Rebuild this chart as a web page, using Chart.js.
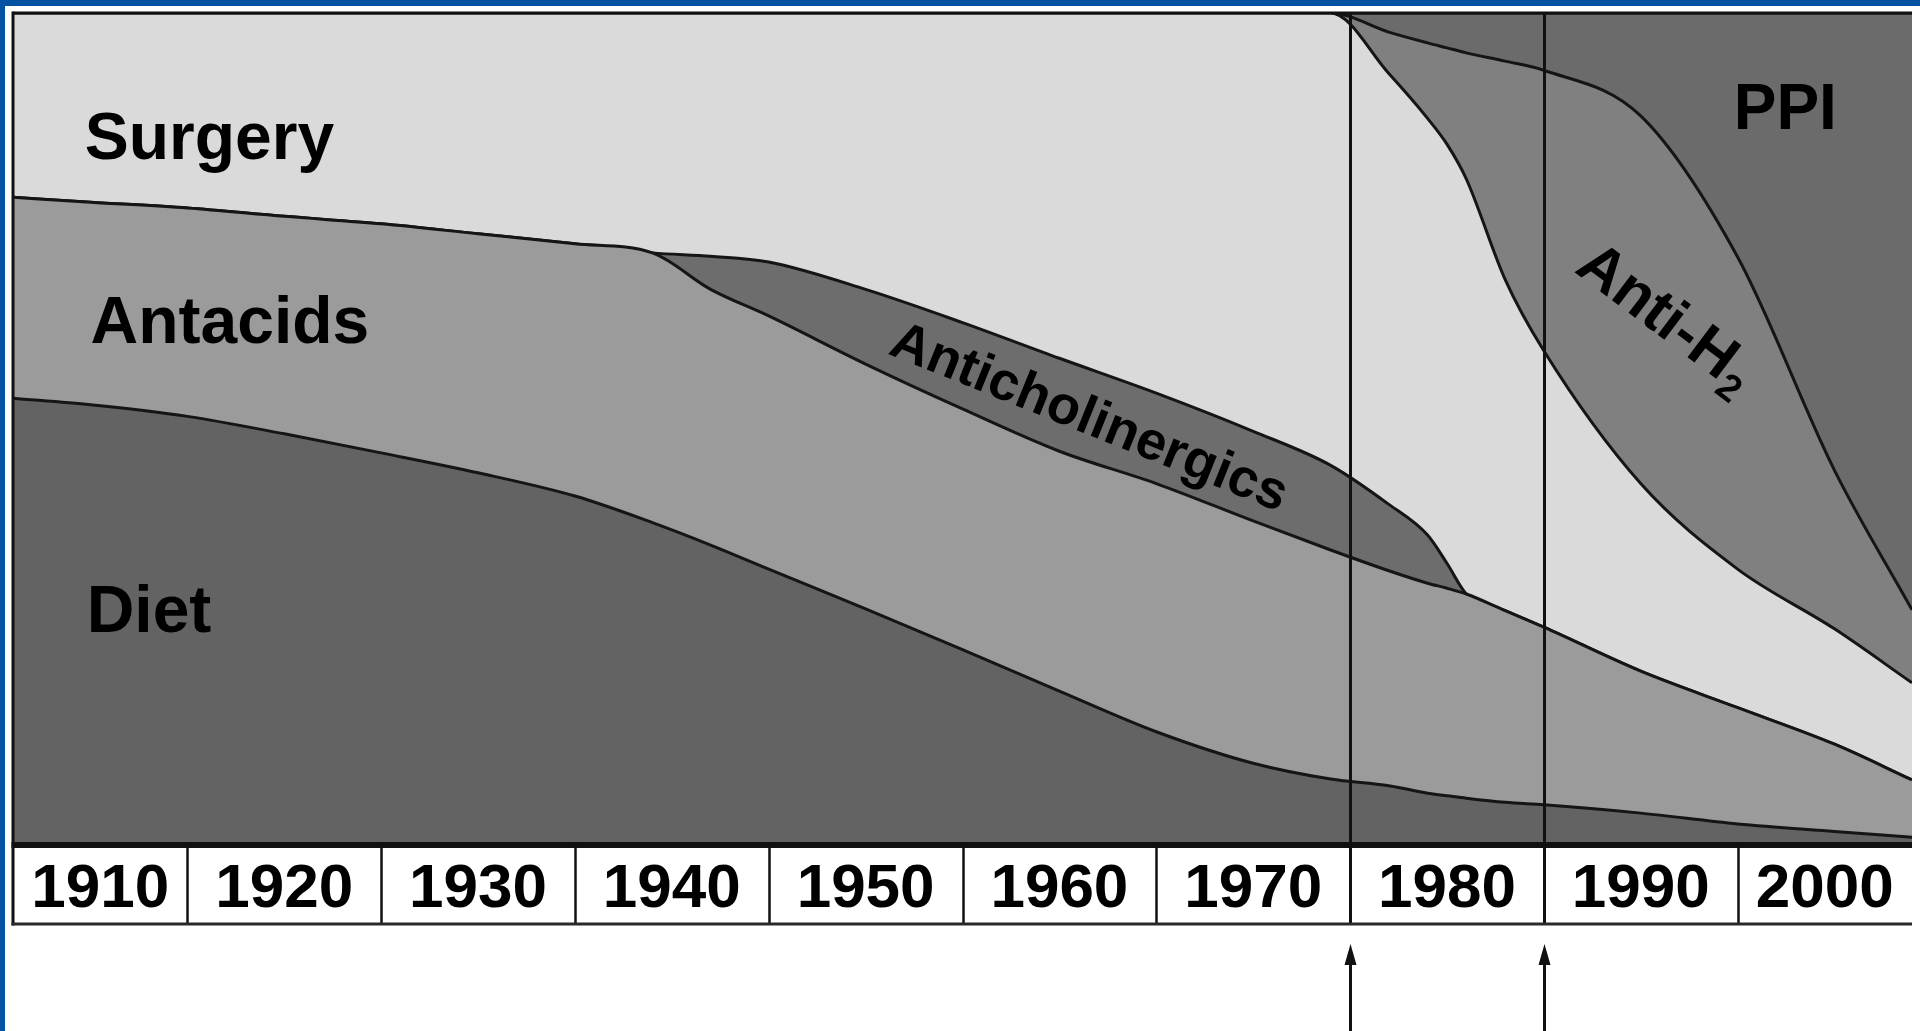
<!DOCTYPE html>
<html>
<head>
<meta charset="utf-8">
<script src="https://cdn.jsdelivr.net/npm/chart.js@4.4.1/dist/chart.umd.min.js"></script>
<style>
html,body{margin:0;padding:0;background:#ffffff;overflow:hidden;}
#wrap{position:absolute;left:0;top:0;width:1920px;height:1031px;}
#blueTop{position:absolute;left:0;top:0;width:1920px;height:6px;background:#0552a2;}
#blueLeft{position:absolute;left:0;top:0;width:5px;height:1031px;background:#0552a2;}
canvas{position:absolute;left:0;top:0;}
</style>
</head>
<body>
<div id="wrap">
  <canvas id="c" width="1920" height="1031" style="width:1920px;height:1031px"></canvas>
  <div id="blueTop"></div>
  <div id="blueLeft"></div>
</div>
<script>
// ---- data (share of treatment, %, stacked bottom -> top) ----
const years            = [1911,1915,1920,1925,1930,1935,1940,1944,1947,1950,1955,1960,1965,1970,1975,1979,1982,1984,1985,1986,1988,1990,1995,2000,2005,2009];
const diet             = [53.6,52.8,51.4,49.3,47.0,44.6,41.8,38.6,35.9,33.0,28.2,23.3,18.3,13.4, 9.6, 7.7, 6.9, 6.0, 5.7, 5.4, 4.9, 4.6, 3.6, 2.3, 1.4, 0.7];
const antacids         = [24.2,24.4,25.1,26.2,27.6,28.8,30.4,32.5,30.8,30.5,29.5,29.0,28.9,29.9,29.2,27.6,25.9,25.3,25.0,24.6,23.1,21.4,17.1,14.0,10.5, 6.9];
const anticholinergics = [ 0,   0,   0,   0,   0,   0,   0,   0,  4.0, 6.5, 9.0,10.4,11.2,10.9,10.8,10.2, 8.0, 5.8, 3.0, 0,   0,   0,   0,   0,   0,   0  ];
const surgery          = [22.2,22.8,23.5,24.5,25.4,26.6,27.8,28.9,29.3,30.0,33.3,37.3,41.6,45.8,50.4,54.5,51.9,50.2,50.5,50.0,39.9,33.3,22.6,16.7,13.9,11.7];
const antiH2           = [ 0,   0,   0,   0,   0,   0,   0,   0,   0,   0,   0,   0,   0,   0,   0,   0,   5.0, 9.1,11.6,15.2,26.3,33.8,44.3,37.6,19.1, 8.8];
const ppi              = [ 0,   0,   0,   0,   0,   0,   0,   0,   0,   0,   0,   0,   0,   0,   0,   0,   2.3, 3.6, 4.2, 4.8, 5.8, 6.9,12.4,29.4,55.1,71.9];

const seriesNames  = ['Diet','Antacids','Anticholinergics','Surgery','Anti-H2','PPI'];
const decadeLabels = ['1910','1920','1930','1940','1950','1960','1970','1980','1990','2000'];
const markerYears  = [1980, 1990];

// ---- styles ----
const seriesColors = ['#636363','#9b9b9b','#6d6d6d','#dadada','#808080','#6b6b6b'];
const FONT = '"Liberation Sans", Arial, Helvetica, sans-serif';

const seriesValues = [diet, antacids, anticholinergics, surgery, antiH2, ppi];

const decor = {
  id: 'decor',
  afterDatasetsDraw(chart) {
    const ctx = chart.ctx;
    const a = chart.chartArea;
    const x = chart.scales.x, y = chart.scales.y;
    const rowBottom = a.bottom + 81;
    ctx.save();
    ctx.strokeStyle = '#111';
    ctx.fillStyle = '#111';
    // marker lines
    ctx.lineWidth = 3;
    markerYears.forEach(m => {
      const px = Math.round(x.getPixelForValue(m)) + 0.5;
      ctx.beginPath(); ctx.moveTo(px, a.top); ctx.lineTo(px, rowBottom); ctx.stroke();
    });
    // frame
    ctx.beginPath(); ctx.moveTo(a.left, a.top - 1.5); ctx.lineTo(a.left, rowBottom + 1.5); ctx.stroke();
    ctx.beginPath(); ctx.moveTo(a.left, a.top); ctx.lineTo(a.right, a.top); ctx.stroke();
    // thick axis line
    ctx.fillRect(a.left - 1.5, a.bottom - 1, a.right - a.left + 1.5, 6);
    // cell dividers
    ctx.lineWidth = 2.5;
    decadeLabels.slice(1).forEach(l => {
      const px = Math.round(x.getPixelForValue(+l)) + 0.5;
      ctx.beginPath(); ctx.moveTo(px, a.bottom); ctx.lineTo(px, rowBottom); ctx.stroke();
    });
    // row bottom
    ctx.strokeStyle = '#2a2a2a';
    ctx.lineWidth = 3;
    ctx.beginPath(); ctx.moveTo(a.left - 1.5, rowBottom); ctx.lineTo(a.right, rowBottom); ctx.stroke();
    // arrows
    ctx.strokeStyle = '#111';
    markerYears.forEach(m => {
      const px = Math.round(x.getPixelForValue(m)) + 0.5;
      const tip = rowBottom + 20;
      ctx.lineWidth = 3;
      ctx.beginPath(); ctx.moveTo(px, tip + 12); ctx.lineTo(px, chart.height); ctx.stroke();
      ctx.beginPath(); ctx.moveTo(px, tip); ctx.lineTo(px - 6, tip + 21); ctx.lineTo(px + 6, tip + 21); ctx.closePath(); ctx.fill();
    });
    // texts
    ctx.fillStyle = '#000';
    ctx.textBaseline = 'alphabetic';
    ctx.textAlign = 'left';
    ctx.font = 'bold 66px ' + FONT;
    ctx.fillText('Surgery', x.getPixelForValue(1914.7), y.getPixelForValue(82.4));
    ctx.fillText('Antacids', x.getPixelForValue(1915.0), y.getPixelForValue(60.2));
    ctx.fillText('Diet', x.getPixelForValue(1914.8), y.getPixelForValue(25.4));
    ctx.font = 'bold 64px ' + FONT;
    ctx.fillText('PPI', x.getPixelForValue(1999.8), y.getPixelForValue(86.0));
    // rotated: Anticholinergics
    ctx.save();
    ctx.translate(x.getPixelForValue(1966.6), y.getPixelForValue(51.6));
    ctx.rotate(22 * Math.PI / 180);
    ctx.font = 'bold 54px ' + FONT;
    ctx.textAlign = 'center';
    ctx.fillText('Anticholinergics', 0, 0.716 * 54 / 2);
    ctx.restore();
    // rotated: Anti-H2
    ctx.save();
    ctx.translate(x.getPixelForValue(1996.4), y.getPixelForValue(63.6));
    ctx.rotate(37 * Math.PI / 180);
    ctx.font = 'bold 61px ' + FONT;
    const w1 = ctx.measureText('Anti-H').width;
    ctx.font = 'bold 38px ' + FONT;
    const w2 = ctx.measureText('2').width;
    const start = -(w1 + w2) / 2;
    const base = 0.716 * 61 / 2;
    ctx.textAlign = 'left';
    ctx.font = 'bold 61px ' + FONT;
    ctx.fillText('Anti-H', start, base);
    ctx.font = 'bold 38px ' + FONT;
    ctx.fillText('2', start + w1 + 1, base + 12);
    ctx.restore();
    ctx.restore();
  }
};

const chart = new Chart(document.getElementById('c'), {
  type: 'line',
  data: {
    datasets: seriesValues.map((vals, i) => ({
      label: seriesNames[i],
      data: years.map((yr, k) => ({ x: yr, y: vals[k] })),
      backgroundColor: seriesColors[i],
      borderColor: '#151515',
      borderWidth: 3,
      fill: i === 0 ? 'origin' : '-1',
      pointRadius: 0,
      tension: 0.4,
      cubicInterpolationMode: 'monotone',
      clip: 0
    }))
  },
  options: {
    responsive: false,
    animation: false,
    devicePixelRatio: 1,
    layout: { padding: { left: 13, right: 8, top: 13, bottom: 0 } },
    plugins: { legend: { display: false }, tooltip: { enabled: false } },
    scales: {
      x: {
        type: 'linear',
        min: 1911,
        max: 2009,
        grid: { display: false },
        border: { display: false },
        afterBuildTicks(axis) {
          axis.ticks = decadeLabels.map(l => {
            const lo = Math.max(+l, axis.min), hi = Math.min(+l + 10, axis.max);
            return { value: (lo + hi) / 2 };
          });
        },
        afterFit(axis) { axis.height = 188; },
        ticks: {
          autoSkip: false,
          maxRotation: 0,
          minRotation: 0,
          padding: 2,
          color: '#000',
          font: { family: FONT, size: 62, weight: 'bold' },
          callback: (v, i) => decadeLabels[i]
        }
      },
      y: { stacked: true, min: 0, max: 100, display: false }
    }
  },
  plugins: [decor]
});
</script>
</body>
</html>
